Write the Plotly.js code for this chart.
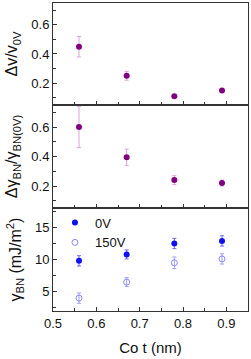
<!DOCTYPE html>
<html><head><meta charset="utf-8">
<script src="https://cdn.plot.ly/plotly-3.0.1.min.js"></script>
<style>html,body{margin:0;padding:0;background:#fff}#c{width:251px;height:359px}</style>
</head><body><div id="c"></div>
<script>
const coT = [0.56, 0.67, 0.78, 0.89];
const dvRatio = [0.45, 0.25, 0.11, 0.15];
const dvErr = [0.07, 0.03, 0, 0];
const dgRatio = [0.60, 0.395, 0.24, 0.22];
const dgErr = [0.14, 0.055, 0.03, 0.02];
const gamma0V = [9.8, 10.8, 12.5, 12.9];
const gamma0VErr = [0.8, 0.7, 0.8, 0.8];
const gamma150V = [4.0, 6.5, 9.5, 10.1];
const gamma150VErr = [0.8, 0.7, 0.9, 0.8];
const seriesNames = ['0V', '150V'];

const purple = '#800080';
const data = [
  {x: coT, y: dvRatio, xaxis:'x', yaxis:'y', type:'scatter', mode:'markers', showlegend:false,
   marker:{color:purple, size:6},
   error_y:{type:'data', array:dvErr, color:'#d9a6d9', thickness:1, width:2}},
  {x: coT, y: dgRatio, xaxis:'x2', yaxis:'y2', type:'scatter', mode:'markers', showlegend:false,
   marker:{color:purple, size:6},
   error_y:{type:'data', array:dgErr, color:'#d9a6d9', thickness:1, width:2}},
  {x: coT, y: gamma0V, xaxis:'x3', yaxis:'y3', type:'scatter', mode:'markers', name:seriesNames[0],
   marker:{color:'#1010f0', size:6},
   error_y:{type:'data', array:gamma0VErr, color:'#6a6af0', thickness:1, width:2}},
  {x: coT, y: gamma150V, xaxis:'x3', yaxis:'y3', type:'scatter', mode:'markers', name:seriesNames[1],
   marker:{color:'#8a8af5', size:6, symbol:'circle-open', line:{width:1}},
   error_y:{type:'data', array:gamma150VErr, color:'#a0a0f5', thickness:1, width:2}}
];

const axCol = '#333';
function xax(anchor, labels){
  return {domain:[0,1], anchor:anchor, range:[0.5,0.95], dtick:0.1, tick0:0.5,
    ticks:'inside', ticklen:4, tickcolor:axCol, showline:true, linecolor:axCol, linewidth:1, mirror:true,
    showgrid:false, zeroline:false, showticklabels:labels, tickformat:'.1f',
    minor:{ticks:'inside', ticklen:3, dtick:0.05, tickcolor:axCol, showgrid:false}};
}
function yax(anchor, dom, range, dtick, mdtick, title, fmt){
  return {domain:dom, anchor:anchor, range:range, dtick:dtick, tick0:0,
    ticks:'inside', ticklen:4, tickcolor:axCol, showline:true, linecolor:axCol, linewidth:1, mirror:true,
    showgrid:false, zeroline:false, tickformat:fmt,
    minor:{ticks:'inside', ticklen:3, dtick:mdtick, tickcolor:axCol, showgrid:false},
    title:{text:title, standoff:9, font:{size:16}}};
}
const layout = {
  width:251, height:359,
  margin:{l:53, r:3, t:3, b:48},
  paper_bgcolor:'#fff', plot_bgcolor:'#fff',
  font:{family:'Liberation Sans, Arial, sans-serif', size:13, color:'#111'},
  xaxis: xax('y', false),
  xaxis2: xax('y2', false),
  xaxis3: Object.assign(xax('y3', true), {title:{text:'Co t (nm)', font:{size:15}, standoff:12}}),
  yaxis: yax('x', [0.669,1], [0.05,0.75], 0.2, 0.1, 'Δv/v<sub>0V</sub>', '.1f'),
  yaxis2: yax('x2', [0.334,0.669], [0.05,0.75], 0.2, 0.1, 'Δγ<sub>BN</sub>/γ<sub>BN(0V)</sub>', '.1f'),
  yaxis3: yax('x3', [0,0.334], [2,18], 5, 2.5, 'γ<sub>BN</sub> (mJ/m<sup>2</sup>)', 'd'),
  showlegend:true,
  legend:{x:0.01, y:0.336, xanchor:'left', yanchor:'top', bgcolor:'rgba(0,0,0,0)',
    font:{size:13}, tracegroupgap:0, itemsizing:'trace'}
};
Plotly.newPlot('c', data, layout, {staticPlot:true, displayModeBar:false});
</script></body></html>
